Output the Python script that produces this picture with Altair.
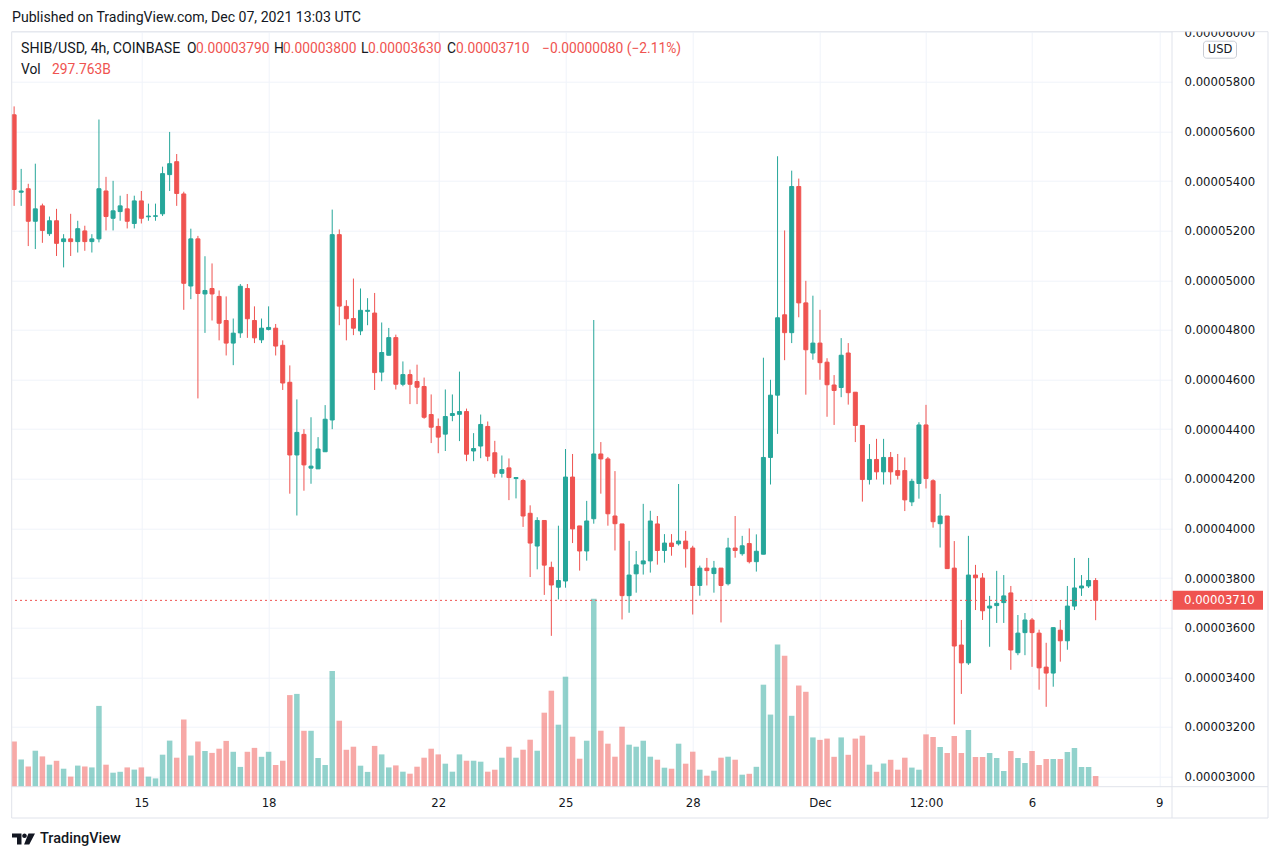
import altair as alt
import pandas as pd
import numpy as np

# ---- data (prices in units of 1e-8 USD, volume in billions) ----
opens = [5667, 5355, 5369, 5238, 5300, 5188, 5240, 5156, 5167, 5156, 5199, 5156, 5167, 5360, 5250, 5277, 5288, 5229, 5320, 5256,
         5258, 5268, 5426, 5478, 5348, 4977, 5167, 4945, 4967, 4935, 4838, 4747, 4788, 4967, 4838, 4760, 4802, 4807, 4738, 4589,
         4296, 4379, 4243, 4240, 4309, 4437, 5184, 4895, 4846, 4796, 4875, 4868, 4630, 4698, 4769, 4581, 4620, 4592, 4572, 4459,
         4411, 4380, 4455, 4460, 4471, 4312, 4332, 4411, 4305, 4222, 4244, 4201, 4193, 4061, 3929, 4032, 3843, 3763, 3788, 4207,
         4010, 3909, 4039, 4300, 4280, 4050, 4018, 3729, 3817, 3857, 3869, 4018, 3911, 3941, 3938, 3949, 3921, 3770, 3840, 3818,
         3840, 3777, 3921, 3898, 3939, 3866, 3896, 4286, 4537, 4861, 4789, 5378, 4909, 4707, 4747, 4670, 4578, 4568, 4707, 4549,
         4415, 4197, 4278, 4228, 4286, 4233, 4233, 4107, 4181, 4417, 4192, 4019, 4050, 3840, 3530, 3458, 3812, 3800, 3679, 3689,
         3701, 3740, 3499, 3580, 3631, 3578, 3441, 3417, 3590, 3547, 3687, 3760, 3768, 3790]
highs = [5701, 5449, 5389, 5470, 5309, 5257, 5288, 5186, 5268, 5240, 5220, 5186, 5648, 5417, 5401, 5341, 5348, 5341, 5360, 5309,
         5309, 5458, 5598, 5509, 5357, 5208, 5179, 5097, 5068, 4959, 4935, 4846, 4985, 4985, 4895, 4846, 4895, 4824, 4758, 4657,
         4520, 4400, 4448, 4368, 4497, 5285, 5205, 4920, 5007, 4967, 4928, 4949, 4830, 4808, 4781, 4673, 4640, 4660, 4608, 4540,
         4443, 4560, 4540, 4632, 4483, 4384, 4459, 4431, 4353, 4294, 4282, 4206, 4200, 4093, 4045, 4032, 3866, 4011, 4320, 4300,
         4010, 4111, 4840, 4348, 4288, 4231, 4018, 3950, 3909, 4099, 4071, 4050, 3977, 3977, 4179, 3990, 3930, 3850, 3881, 3869,
         3840, 3962, 4050, 3970, 4000, 3976, 4688, 4599, 5500, 5201, 5442, 5410, 4998, 4938, 4881, 4686, 4618, 4767, 4747, 4549,
         4415, 4340, 4361, 4361, 4308, 4300, 4286, 4200, 4428, 4498, 4198, 4139, 4050, 3949, 3631, 3970, 3853, 3820, 3728, 3829,
         3812, 3768, 3651, 3659, 3639, 3592, 3539, 3600, 3631, 3768, 3881, 3812, 3881, 3800]
lows = [5300, 5300, 5138, 5126, 5151, 5179, 5098, 5052, 5098, 5112, 5119, 5112, 5153, 5201, 5201, 5240, 5209, 5209, 5229, 5240,
        5240, 5259, 5360, 5300, 4881, 4924, 4524, 4788, 4838, 4758, 4697, 4658, 4768, 4768, 4747, 4747, 4798, 4697, 4558, 4140,
        4052, 4152, 4180, 4240, 4309, 4400, 4819, 4758, 4779, 4779, 4819, 4558, 4593, 4698, 4560, 4573, 4501, 4501, 4442, 4344,
        4303, 4312, 4432, 4352, 4271, 4271, 4283, 4271, 4205, 4205, 4114, 4121, 4006, 3804, 3835, 3732, 3567, 3714, 3761, 3941,
        3830, 3870, 4019, 4140, 4011, 3911, 3633, 3660, 3741, 3814, 3822, 3854, 3862, 3890, 3931, 3842, 3653, 3729, 3770, 3741,
        3621, 3770, 3882, 3890, 3859, 3826, 3896, 4177, 4381, 4678, 4747, 4851, 4539, 4680, 4599, 4450, 4417, 4529, 4499, 4348,
        4108, 4177, 4197, 4177, 4177, 4197, 4070, 4090, 4120, 4161, 4003, 3923, 3838, 3210, 3333, 3450, 3671, 3631, 3523, 3619,
        3619, 3430, 3489, 3489, 3442, 3350, 3281, 3362, 3463, 3511, 3671, 3728, 3760, 3630]
closes = [5366, 5360, 5238, 5288, 5201, 5240, 5149, 5167, 5156, 5208, 5156, 5167, 5369, 5257, 5280, 5300, 5238, 5320, 5250, 5259,
          5260, 5430, 5470, 5350, 4988, 5167, 4947, 4959, 4945, 4827, 4747, 4787, 4976, 4845, 4768, 4807, 4810, 4735, 4586, 4296,
          4387, 4256, 4251, 4320, 4440, 5184, 4896, 4845, 4807, 4879, 4879, 4628, 4709, 4769, 4581, 4620, 4581, 4569, 4448, 4408,
          4368, 4451, 4463, 4471, 4299, 4322, 4419, 4291, 4222, 4237, 4205, 4205, 4050, 3941, 4032, 3852, 3772, 3790, 4207, 3998,
          3909, 4030, 4300, 4280, 4059, 4019, 3729, 3812, 3853, 3869, 4030, 3911, 3941, 3927, 3949, 3918, 3770, 3840, 3830, 3840,
          3770, 3921, 3911, 3930, 3866, 3908, 4286, 4537, 4849, 4789, 5378, 4909, 4720, 4747, 4668, 4579, 4556, 4698, 4547, 4415,
          4197, 4278, 4228, 4286, 4228, 4214, 4115, 4190, 4417, 4201, 4027, 4050, 3838, 3526, 3458, 3812, 3801, 3668, 3687, 3698,
          3728, 3510, 3578, 3631, 3580, 3438, 3417, 3600, 3547, 3687, 3760, 3768, 3790, 3710]
volumes_b = [1261, 759, 564, 1004, 845, 614, 723, 502, 282, 589, 564, 538, 2254, 614, 391, 416, 538, 477, 538, 282,
             232, 893, 1286, 809, 1875, 870, 1261, 996, 943, 1060, 1278, 974, 552, 974, 1083, 834, 974, 605, 725, 2556,
             2589, 1560, 1560, 801, 605, 3228, 1841, 1030, 1116, 586, 413, 1138, 901, 538, 594, 419, 363, 558, 809, 1060,
             901, 642, 419, 901, 725, 725, 698, 419, 474, 809, 1116, 809, 1032, 1311, 1004, 2065, 2678, 1730, 3069, 1395,
             781, 1283, 5245, 1562, 1200, 837, 1674, 1172, 1116, 1283, 837, 753, 530, 502, 1200, 642, 977, 474, 307, 446,
             809, 837, 753, 335, 360, 555, 2846, 2012, 3967, 3655, 1978, 2823, 2648, 1375, 1306, 1342, 834, 1375, 890, 1342,
             1423, 614, 416, 647, 751, 474, 809, 533, 474, 1460, 1387, 1108, 940, 1415, 940, 1582, 829, 829, 940, 801,
             438, 996, 801, 661, 996, 605, 773, 773, 773, 968, 1080, 550, 550, 297.763]
price_ticks = list(range(3000, 6001, 200))
time_ticks = ["2021-11-15", "2021-11-18", "2021-11-22", "2021-11-25", "2021-11-28",
              "2021-12-01", "2021-12-03 12:00", "2021-12-06", "2021-12-09"]

UP, DOWN = "#26a69a", "#ef5350"
TXT = "#131722"
FRAME = "#e0e3eb"
GRID = "#f0f3fa"
AXFONT = "DejaVu Sans"
UIFONT = "Roboto"

E = 1e-8
times = pd.date_range("2021-11-12 00:00", periods=len(opens), freq="4h", tz="UTC")
o, h, l, c = (np.array(a, dtype=float) * E for a in (opens, highs, lows, closes))
df = pd.DataFrame({
    "t": times.strftime("%Y-%m-%dT%H:%M:%SZ"),
    "open": o, "high": h, "low": l, "close": c,
    "vol": volumes_b,
    "dir": np.where(c >= o, "up", "down"),
})
df["label"] = df["close"].map(lambda v: f"{v:.8f}")
last = df.tail(1)

W, H = 1160.3, 755

def dt(s):
    ts = pd.Timestamp(s)
    return alt.DateTime(year=ts.year, month=ts.month, date=ts.day, hours=ts.hour,
                        minutes=ts.minute, utc=True)

x_scale = alt.Scale(type="utc", domain=[dt("2021-11-11 22:38"), dt("2021-12-09 07:12")],
                    nice=False, padding=0)
x_axis = alt.Axis(values=[dt(s) for s in time_ticks], title=None, grid=True, gridColor=GRID,
                  domain=False, ticks=False, labelPadding=16, labelBaseline="middle",
                  labelFlush=False, labelOverlap=False, labelFont=AXFONT, labelFontSize=11.7,
                  labelColor=TXT,
                  labelExpr="utchours(datum.value) == 12 ? '12:00' : (utcdate(datum.value) == 1 ? 'Dec' : '' + utcdate(datum.value))")
xe = alt.X("t:T", scale=x_scale, axis=x_axis)

y_scale = alt.Scale(domain=[2959 * E, 6002 * E], nice=False, zero=False, padding=0)
y_axis = alt.Axis(orient="right", values=[v * E for v in price_ticks], format=".8f", title=None,
                  grid=True, gridColor=GRID, domain=False, ticks=False, labelAlign="left",
                  labelBaseline="middle", labelPadding=12, labelFont=AXFONT, labelFontSize=11.7,
                  labelColor=TXT, zindex=0)
color = alt.Color("dir:N", scale=alt.Scale(domain=["up", "down"], range=[UP, DOWN]), legend=None)
stroke = alt.Stroke("dir:N", scale=alt.Scale(domain=["up", "down"], range=[UP, DOWN]), legend=None)

base = alt.Chart(df)
vol = base.mark_bar(size=5.5, opacity=0.5).encode(
    x=xe, y=alt.Y("vol:Q", scale=alt.Scale(domain=[0, 21065], nice=False, padding=0), axis=None),
    color=color)

wicks = base.mark_rule(strokeWidth=1).encode(
    x=xe, y=alt.Y("low:Q", scale=y_scale, axis=y_axis), y2="high:Q", color=color)
bodies = base.mark_bar(size=4, strokeWidth=1).encode(
    x=xe, y=alt.Y("open:Q", scale=y_scale, axis=y_axis), y2="close:Q", color=color, stroke=stroke)
last_line = alt.Chart(last).mark_rule(color=DOWN, strokeWidth=1, strokeDash=[2, 3]).encode(
    y=alt.Y("close:Q", scale=y_scale, axis=y_axis))
tag = alt.Chart(last).mark_rule(color=DOWN, strokeWidth=19, strokeCap="butt").encode(
    y=alt.Y("close:Q", scale=y_scale, axis=y_axis), x=alt.value(W + 0.5), x2=alt.value(W + 91))
tag_text = alt.Chart(last).mark_text(align="left", baseline="middle", color="white",
                                     font=AXFONT, fontSize=11.7).encode(
    y=alt.Y("close:Q", scale=y_scale, axis=y_axis), x=alt.value(W + 12), text="label:N")

price = alt.layer(wicks, bodies, last_line, tag, tag_text)

one = pd.DataFrame({"k": [0]})
def txt(s, x, y, col=TXT, size=13.8, font=UIFONT, weight="normal", align="left"):
    return alt.Chart(one).mark_text(text=s, align=align, baseline="middle", color=col, fontSize=size,
                                    font=font, fontWeight=weight).encode(x=alt.value(x), y=alt.value(y))

def rule(x1, y1, x2, y2):
    return alt.Chart(one).mark_rule(color=FRAME, strokeWidth=1).encode(
        x=alt.value(x1), y=alt.value(y1), x2=alt.value(x2), y2=alt.value(y2))

cover = alt.Chart(one).mark_rect(color="white").encode(
    x=alt.value(W + 1), x2=alt.value(W + 95.5), y=alt.value(-23.7), y2=alt.value(-0.6))
frame = [rule(0, 0, W + 96, 0), rule(0, 0, 0, H + 31.3), rule(W + 96, 0, W + 96, H + 31.3),
         rule(0, H + 31.3, W + 96, H + 31.3), rule(0, H, W + 96, H), rule(W, 0, W, H + 31.3)]
usd_box = alt.Chart(one).mark_rect(fill="white", stroke="#c9ccd4", strokeWidth=1, cornerRadius=3).encode(
    x=alt.value(W + 31.5), x2=alt.value(W + 64.5), y=alt.value(9.5), y2=alt.value(26.5))

lo, lh, ll, lc = opens[-1] * E, highs[-1] * E, lows[-1] * E, closes[-1] * E
chg = (closes[-1] - closes[-2]) * E
pct = chg / (closes[-2] * E) * 100
sign = "\u2212" if chg < 0 else "+"
texts = [
    txt("Published on TradingView.com, Dec 07, 2021 13:03 UTC", 0.3, -14.2, size=14.1),
    txt("SHIB/USD, 4h, COINBASE", 9.3, 17.3, size=14.2),
    txt("O", 175.3, 17.3), txt(f"{lo:.8f}", 184.3, 17.3, col=DOWN),
    txt("H", 262.3, 17.3), txt(f"{lh:.8f}", 271.3, 17.3, col=DOWN),
    txt("L", 349.3, 17.3), txt(f"{ll:.8f}", 356.3, 17.3, col=DOWN),
    txt("C", 435.3, 17.3), txt(f"{lc:.8f}", 444.3, 17.3, col=DOWN),
    txt(f"{sign}{abs(chg):.8f} ({sign}{abs(pct):.2f}%)", 530.3, 17.3, col=DOWN),
    txt("Vol", 9.3, 38.3), txt(f"{volumes_b[-1]:.3f}B", 40.3, 38.3, col=DOWN),
    txt("USD", W + 48, 18.2, size=11.5, font=AXFONT, align="center"),
    txt("TradingView", 28.3, 807.3, size=14.5, weight=500),
]
logo_path = ("M-1,-0.478 L-0.174,-0.478 L-0.174,0.478 L-0.565,0.478 L-0.565,-0.13 L-1,-0.13 Z "
             "M-0.113,-0.278 A0.2,0.2 0 1,0 0.287,-0.278 A0.2,0.2 0 1,0 -0.113,-0.278 Z "
             "M0.43,-0.478 L1,-0.478 L0.5,0.478 L0.05,0.478 Z")
logo = alt.Chart(one).mark_point(shape=logo_path, filled=True, size=529, color=TXT, opacity=1).encode(
    x=alt.value(11.8), y=alt.value(807.3))

chart = alt.layer(vol, price, cover, *frame, usd_box, *texts, logo).resolve_scale(
    y="independent", color="shared").properties(
    width=W, height=H,
    autosize=alt.AutoSizeParams(type="none"),
    padding={"left": 3.7, "top": 23.7, "right": 98, "bottom": 59.3},
    background="white",
).configure_view(stroke=None)

chart.save("out.html", embed_options={"renderer": "svg", "actions": False})
